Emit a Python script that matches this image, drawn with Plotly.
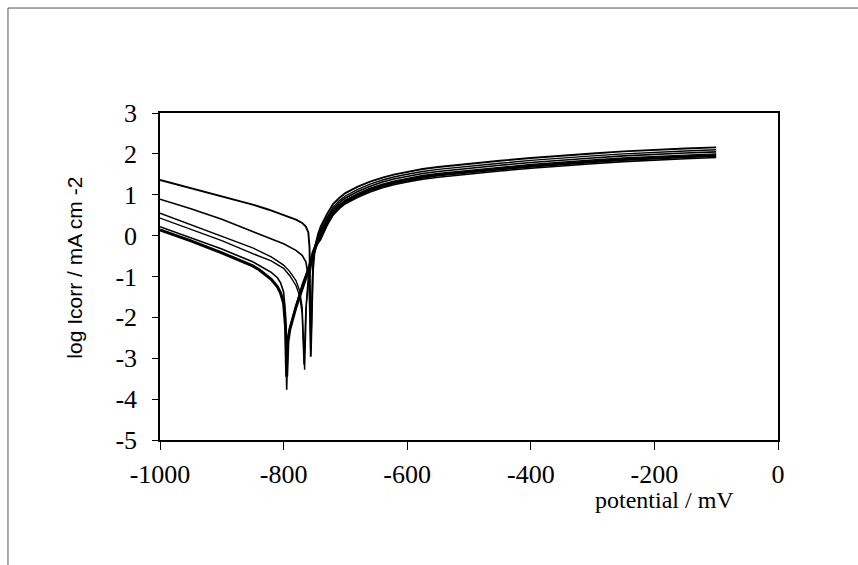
import plotly.graph_objects as go

# potential (mV) and log Icorr values, one list pair per curve
xA = [-1000, -950, -900, -850, -825, -800, -780, -770, -764, -760, -758, -756, -754, -752, -748, -744,
      -740, -730, -720, -710, -700, -680, -660, -640, -620, -600, -575, -550, -500, -450, -400, -350, -300, -250, -200, -150, -100]
yA = [1.36, 1.16, 0.97, 0.76, 0.64, 0.51, 0.39, 0.31, 0.22, 0.08, -0.30, -2.96, -1.20, -0.50, -0.20, 0.05,
      0.22, 0.52, 0.77, 0.92, 1.04, 1.20, 1.32, 1.42, 1.50, 1.56, 1.63, 1.68, 1.76, 1.83, 1.90, 1.96, 2.01, 2.06, 2.10, 2.13, 2.16]

xB = [-1000, -950, -900, -850, -800, -780, -770, -764, -759, -756, -753, -750, -745,
      -740, -730, -720, -710, -700, -680, -660, -640, -620, -600, -575, -550, -500, -450, -400, -350, -300, -250, -200, -150, -100]
yB = [0.89, 0.66, 0.40, 0.10, -0.20, -0.36, -0.48, -0.64, -1.10, -2.80, -1.00, -0.45, -0.12,
      0.09, 0.39, 0.64, 0.80, 0.92, 1.08, 1.21, 1.31, 1.39, 1.45, 1.52, 1.57, 1.65, 1.72, 1.79, 1.85, 1.90, 1.95, 1.99, 2.02, 2.05]

xC = [-1000, -950, -900, -850, -820, -800, -790, -780, -774, -770, -766, -763, -760, -755, -750, -745,
      -740, -730, -720, -710, -700, -680, -660, -640, -620, -600, -575, -550, -500, -450, -400, -350, -300, -250, -200, -150, -100]
yC = [0.55, 0.27, -0.01, -0.30, -0.52, -0.72, -0.88, -1.10, -1.35, -1.75, -3.28, -1.60, -1.00, -0.55, -0.28, -0.05,
      0.14, 0.44, 0.69, 0.85, 0.97, 1.13, 1.26, 1.36, 1.44, 1.50, 1.57, 1.62, 1.70, 1.77, 1.84, 1.90, 1.95, 2.00, 2.04, 2.07, 2.10]

xD = [-1000, -950, -900, -850, -820, -800, -790, -780, -774, -770, -767, -764, -760, -755, -750, -745,
      -740, -730, -720, -710, -700, -680, -660, -640, -620, -600, -575, -550, -500, -450, -400, -350, -300, -250, -200, -150, -100]
yD = [0.43, 0.15, -0.12, -0.44, -0.62, -0.80, -0.98, -1.22, -1.48, -1.90, -3.15, -1.80, -1.20, -0.70, -0.35, -0.12,
      0.04, 0.34, 0.59, 0.75, 0.87, 1.03, 1.16, 1.26, 1.34, 1.40, 1.47, 1.52, 1.60, 1.67, 1.74, 1.80, 1.85, 1.90, 1.94, 1.97, 2.00]

xE = [-1000, -950, -900, -850, -840, -830, -820, -810, -805, -800, -797, -795, -793, -789, -780, -770, -760, -752, -745,
      -740, -730, -720, -710, -700, -680, -660, -640, -620, -600, -575, -550, -500, -450, -400, -350, -300, -250, -200, -150, -100]
yE = [0.22, -0.05, -0.33, -0.64, -0.72, -0.80, -0.90, -1.03, -1.15, -1.38, -1.90, -3.77, -2.50, -2.20, -1.70, -1.20, -0.80, -0.42, -0.20,
      -0.10, 0.24, 0.50, 0.66, 0.78, 0.94, 1.07, 1.17, 1.25, 1.31, 1.38, 1.43, 1.51, 1.58, 1.65, 1.71, 1.76, 1.81, 1.85, 1.88, 1.91]

xF = [-1000, -950, -900, -850, -840, -830, -820, -810, -805, -800, -797, -795, -793, -790, -780, -770, -760, -752, -745,
      -740, -730, -720, -710, -700, -680, -660, -640, -620, -600, -575, -550, -500, -450, -400, -350, -300, -250, -200, -150, -100]
yF = [0.14, -0.13, -0.42, -0.74, -0.83, -0.94, -1.07, -1.25, -1.40, -1.65, -2.20, -3.45, -2.60, -2.30, -1.75, -1.30, -0.85, -0.40, -0.15,
      -0.02, 0.30, 0.55, 0.71, 0.83, 0.99, 1.12, 1.22, 1.30, 1.36, 1.43, 1.48, 1.56, 1.63, 1.70, 1.76, 1.81, 1.86, 1.90, 1.93, 1.96]

curves = [(xA, yA, 1.9), (xB, yB, 1.6), (xC, yC, 1.4), (xD, yD, 1.4), (xE, yE, 1.6), (xF, yF, 3.0)]

x_ticks = [-1000, -800, -600, -400, -200, 0]
y_ticks = [-5, -4, -3, -2, -1, 0, 1, 2, 3]

fig = go.Figure()
for xs, ys, w in curves:
    fig.add_trace(go.Scatter(x=xs, y=ys, mode="lines",
                             line=dict(color="black", width=w), showlegend=False,
                             hoverinfo="skip"))

serif = "Liberation Serif, Times New Roman, serif"
fig.update_layout(
    width=858, height=565,
    margin=dict(l=160, r=80, t=113, b=125),
    paper_bgcolor="white", plot_bgcolor="white",
    xaxis=dict(range=[-1000, 0], tickvals=x_ticks, ticktext=[str(v) for v in x_ticks],
               showgrid=False, zeroline=False, showline=True, linecolor="black", linewidth=1.5,
               mirror=True, ticks="outside", ticklen=8, tickwidth=1, tickcolor="black",
               tickfont=dict(family=serif, size=26, color="black"), ticklabelstandoff=2),
    yaxis=dict(range=[-5, 3], tickvals=y_ticks, ticktext=[str(v) for v in y_ticks],
               showgrid=False, zeroline=False, showline=True, linecolor="black", linewidth=1.5,
               mirror=True, ticks="outside", ticklen=6, tickwidth=1, tickcolor="black",
               tickfont=dict(family=serif, size=26, color="black"), ticklabelstandoff=10),
    annotations=[
        dict(text="log Icorr / mA cm -2", xref="paper", yref="paper", x=-0.138, y=0.526,
             textangle=-90, showarrow=False, xanchor="center", yanchor="middle",
             font=dict(family="Liberation Sans, Arial, sans-serif", size=21, color="black")),
        dict(text="potential / mV", xref="paper", yref="paper", x=0.817, y=-0.183,
             showarrow=False, xanchor="center", yanchor="middle",
             font=dict(family=serif, size=24, color="black")),
    ],
    shapes=[
        dict(type="line", xref="paper", yref="paper", x0=-0.246, x1=1.13, y0=1.321, y1=1.321,
             line=dict(color="#555555", width=1)),
        dict(type="line", xref="paper", yref="paper", x0=-0.246, x1=-0.246, y0=1.321, y1=-0.39,
             line=dict(color="#555555", width=1)),
    ],
)

fig.write_html("out.html", config={"displayModeBar": False},
               post_script="document.body.style.margin='0';")
